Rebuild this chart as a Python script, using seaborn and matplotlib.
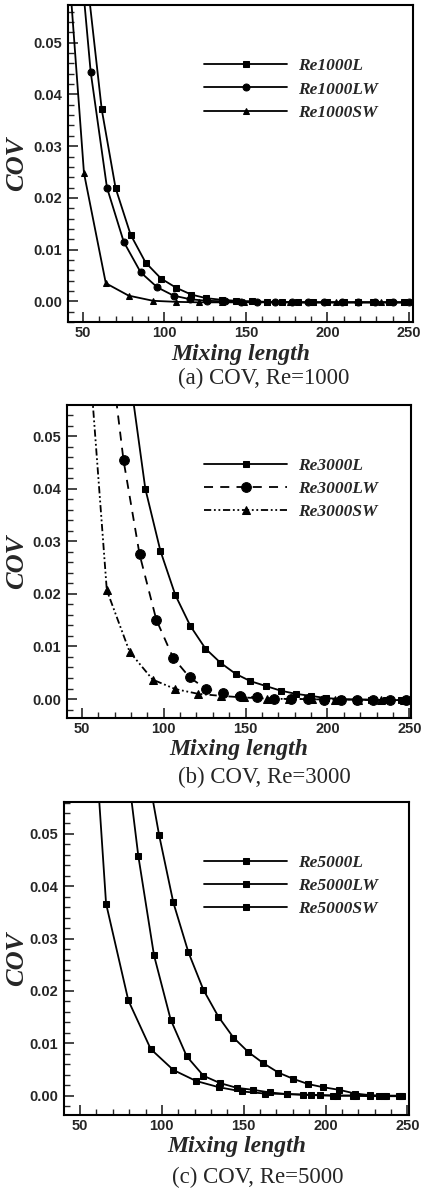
import matplotlib
matplotlib.use('Agg')
import matplotlib.pyplot as plt
import seaborn as sns
from matplotlib.ticker import MultipleLocator

# --- data (mixing length vs COV) ---
# (a) Re = 1000
re1000_L_x = [52.3, 61.5, 70, 79.2, 88.4, 97.9, 107.3, 116.5, 125.7, 135, 144, 154, 163, 172, 182, 191, 200, 210, 219, 228, 238, 247]
re1000_L_y = [0.063, 0.0371, 0.0219, 0.0129, 0.0075, 0.0044, 0.0026, 0.0013, 0.0006, 0.0003, 0.0001, 0.0, -0.0001, -0.0001,
              -0.0002, -0.0002, -0.0002, -0.0002, -0.0002, -0.0002, -0.0002, -0.0002]
re1000_LW_x = [44, 54.7, 64.7, 75, 85.4, 95.6, 105.6, 115.8, 126, 137, 147, 157, 168, 178, 188, 198, 209, 219, 229, 240, 250]
re1000_LW_y = [0.0817, 0.0444, 0.0220, 0.0115, 0.0056, 0.0027, 0.0011, 0.0004, 0.0001, 0.0, -0.0001, -0.0001, -0.0002,
               -0.0002, -0.0002, -0.0002, -0.0002, -0.0002, -0.0002, -0.0002, -0.0002]
re1000_SW_x = [37, 50.6, 64, 78, 93, 107, 121, 135, 149, 163, 177, 191, 205, 219, 233, 247]
re1000_SW_y = [0.083, 0.0248, 0.0035, 0.0011, 0.0001, -0.0001, -0.0002, -0.0002, -0.0002, -0.0002, -0.0002, -0.0002,
               -0.0002, -0.0002, -0.0002, -0.0002]

# (b) Re = 3000
re3000_L_x = [80, 88.8, 98, 107.1, 116.3, 125.5, 134.7, 143.9, 153, 162.2, 171.4, 180.6, 189.8, 199, 208, 217.3, 226.5, 235.7, 245]
re3000_L_y = [0.060, 0.0400, 0.0282, 0.0198, 0.0139, 0.0096, 0.0069, 0.0048, 0.0034, 0.0025, 0.0016, 0.0010, 0.0006, 0.0002,
              0.0, -0.0001, -0.0001, -0.0002, -0.0002]
re3000_LW_x = [65, 75.5, 85.3, 95.5, 105.7, 115.9, 126.1, 136.3, 146.5, 156.7, 167.3, 177.6, 188, 198, 208, 218, 228, 238, 248]
re3000_LW_y = [0.0723, 0.0454, 0.0275, 0.0151, 0.0079, 0.0041, 0.0019, 0.0011, 0.0006, 0.0003, 0.0001, 0.0, 0.0, -0.0001,
               -0.0001, -0.0001, -0.0002, -0.0002, -0.0002]
re3000_SW_x = [51, 65.3, 79.2, 93.3, 107.1, 121, 135.1, 149, 162.9, 176.5, 190.5, 204.5, 218.5, 232.5, 246.5]
re3000_SW_y = [0.080, 0.0207, 0.0090, 0.0037, 0.0019, 0.0010, 0.0006, 0.0003, 0.0001, 0.0, 0.0, -0.0001, -0.0001, -0.0002, -0.0002]

# (c) Re = 5000
re5000_L_x = [89, 98.3, 107, 116.2, 125.4, 134.5, 143.7, 152.9, 162, 171.2, 180.3, 189.5, 198.7, 208.5, 218, 227, 236, 245]
re5000_L_y = [0.066, 0.0498, 0.0369, 0.0274, 0.0202, 0.0151, 0.0111, 0.0083, 0.0062, 0.0044, 0.0032, 0.0022, 0.0016, 0.0011,
              0.0004, 0.0001, 0.0, 0.0]
re5000_LW_x = [75.5, 85.6, 95.2, 105.4, 115.2, 125.4, 135.5, 145.7, 155.9, 166.1, 176.3, 186.5, 196.7, 207, 217, 227, 237, 247]
re5000_LW_y = [0.0716, 0.0458, 0.0268, 0.0145, 0.0075, 0.0038, 0.0024, 0.0015, 0.0011, 0.0006, 0.0003, 0.0002, 0.0001, 0.0,
               0.0, -0.0001, -0.0001, -0.0001]
re5000_SW_x = [52, 65.9, 79.5, 93.2, 107, 120.9, 134.9, 148.8, 163, 176.7, 191, 204.8, 218.6, 232.4, 246.2]
re5000_SW_y = [0.102, 0.0367, 0.0182, 0.0089, 0.0049, 0.0028, 0.0016, 0.0008, 0.0004, 0.0003, 0.0001, 0.0, 0.0, -0.0001, -0.0001]

captions = ['(a) COV, Re=1000', '(b) COV, Re=3000', '(c) COV, Re=5000']

DASHDOTDOT = (0, (4, 1.5, 1, 1.5, 1, 1.5))
panels = [
    [('Re1000L', re1000_L_x, re1000_L_y, 's', 4, '-'),
     ('Re1000LW', re1000_LW_x, re1000_LW_y, 'o', 5, '-'),
     ('Re1000SW', re1000_SW_x, re1000_SW_y, '^', 4, '-')],
    [('Re3000L', re3000_L_x, re3000_L_y, 's', 4, '-'),
     ('Re3000LW', re3000_LW_x, re3000_LW_y, 'o', 7, (0, (5, 4))),
     ('Re3000SW', re3000_SW_x, re3000_SW_y, '^', 6, DASHDOTDOT)],
    [('Re5000L', re5000_L_x, re5000_L_y, 's', 4.5, '-'),
     ('Re5000LW', re5000_LW_x, re5000_LW_y, 's', 4.5, '-'),
     ('Re5000SW', re5000_SW_x, re5000_SW_y, 's', 4.5, '-')],
]

# axes boxes in pixels: left, right, top, bottom ; y limits
boxes = [(68, 413, 5, 322), (67, 411, 405, 718), (64, 409, 802, 1115)]
ylims = [(-0.0040, 0.0573), (-0.0036, 0.0559), (-0.0037, 0.0561)]
xlims = [(40.8, 252.5), (41, 251), (40.2, 251)]
cap_pos = [(264, 378), (264, 777), (258, 1177)]

sns.set_style('ticks')
plt.rcParams['font.family'] = ['Liberation Sans', 'DejaVu Sans']
plt.rcParams['xtick.direction'] = 'in'
plt.rcParams['ytick.direction'] = 'in'

W, H = 426, 1189
fig = plt.figure(figsize=(W / 100, H / 100), dpi=100)

serif_bi = dict(family=['Liberation Serif', 'DejaVu Serif'], weight='bold', style='italic')

for i, series in enumerate(panels):
    l, r, t, b = boxes[i]
    ax = fig.add_axes([l / W, (H - b) / H, (r - l) / W, (b - t) / H])
    for name, xs, ys, mk, ms, ls in series:
        sns.lineplot(x=xs, y=ys, ax=ax, color='black', marker=mk, markersize=ms,
                     markeredgecolor='black', linestyle=ls, linewidth=1.3,
                     sort=False, estimator=None, label=name)
    ax.set_xlim(*xlims[i])
    ax.set_ylim(*ylims[i])
    ax.xaxis.set_major_locator(MultipleLocator(50))
    ax.xaxis.set_minor_locator(MultipleLocator(10))
    ax.yaxis.set_major_locator(MultipleLocator(0.01))
    ax.yaxis.set_minor_locator(MultipleLocator(0.002))
    ax.yaxis.set_major_formatter(plt.FuncFormatter(lambda v, p: f'{v:.2f}'))
    ax.tick_params(which='major', length=7, width=1.2, labelsize=10.5, pad=4)
    ax.tick_params(which='minor', length=4, width=1.0)
    ax.tick_params(axis='x', which='major', pad=3)
    for lab in ax.get_xticklabels() + ax.get_yticklabels():
        lab.set_fontweight('bold')
    for sp in ax.spines.values():
        sp.set_linewidth(1.5)
        sp.set_color('black')

    ax.set_ylabel('COV', fontsize=19, **serif_bi)
    ax.yaxis.set_label_coords((28 - l) / (r - l), 0.5)
    ax.set_xlabel('Mixing length', fontsize=17, **serif_bi)
    ax.xaxis.set_label_coords(0.5, -0.068)

    leg = ax.legend(loc='upper left', bbox_to_anchor=((204 - l) / (r - l), 0.832), frameon=False,
                    handlelength=4.8, handletextpad=0.6, labelspacing=0.4, borderpad=0, borderaxespad=0,
                    prop=dict(family=['Liberation Serif'], weight='bold', style='italic', size=12.5))

    cx, cy = cap_pos[i]
    fig.text(cx / W, 1 - cy / H, captions[i], ha='center', va='center', fontsize=16.5,
             family=['Liberation Serif', 'DejaVu Serif'])

fig.savefig('out.png', dpi=100)
